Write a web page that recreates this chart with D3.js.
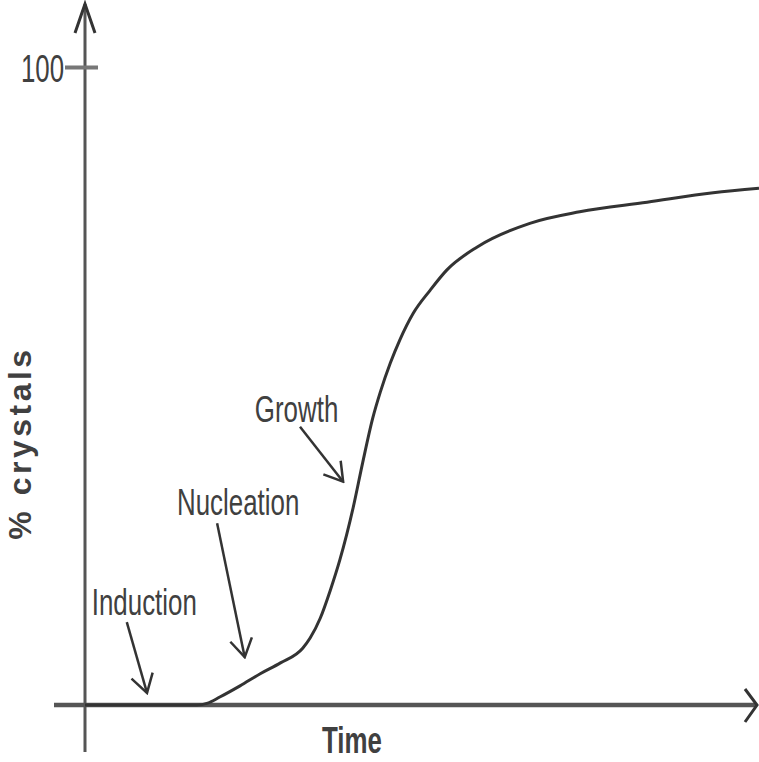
<!DOCTYPE html>
<html>
<head>
<meta charset="utf-8">
<script src="https://cdn.jsdelivr.net/npm/d3@7"></script>
<style>
  body { margin: 0; background: #fff; }
  text { font-family: "Liberation Sans", Arial, sans-serif; fill: #404040; }
</style>
</head>
<body>
<div id="graph"></div>
<script>
// ------DATA------
// time (arbitrary units) and % crystals
const time = [0, 9.6, 16.6, 18.2, 20, 23, 26, 29, 32.3, 33.4, 34.9, 36.4, 37.8, 39.8, 41.2, 42.7, 43.8, 45.3, 46.7, 48.7, 51.2, 53.7, 58.2, 66, 73.4, 83.4, 93.2, 100]
const crystals = [0, 0, 0, 0.3, 1.25, 3.0, 4.9, 6.6, 8.9, 10.5, 13.6, 18.0, 22.7, 31.0, 38.0, 45.0, 49.0, 53.6, 57.2, 61.4, 65.0, 68.2, 71.8, 75.5, 77.3, 78.8, 80.3, 81.0]
const yTicks = [100]

// annotation labels: label anchor and arrow start/end, all in data units
const stageLabels = ["Induction", "Nucleation", "Growth"]
const labelPos = [[1.0, 14.1], [13.65, 29.8], [25.2, 44.4]]
const arrowFrom = [[6.2, 13.0], [19.6, 28.5], [31.9, 43.6]]
const arrowTo = [[9.2, 1.9], [23.7, 7.5], [38.3, 35.0]]

const width = 759, height = 762

const svg = d3.select('#graph').append('svg')
  .attr('width', width)
  .attr('height', height)

const x = d3.scaleLinear().domain([0, 100]).range([85, 759])
const y = d3.scaleLinear().domain([0, 100]).range([705, 67])

const axisColor = "#555"

// arrow marker for annotations
svg.append('defs').append('marker')
  .attr('id', 'head')
  .attr('markerUnits', 'userSpaceOnUse')
  .attr('viewBox', '-20 -13 22 26')
  .attr('markerWidth', 22).attr('markerHeight', 26)
  .attr('refX', 0).attr('refY', 0)
  .attr('orient', 'auto')
  .append('path')
    .attr('d', 'M-18,-11L0,0L-18,11')
    .attr('fill', 'none')
    .attr('stroke', '#333')
    .attr('stroke-width', 2.5)

// ------AXES------
// x axis line with open arrowhead
svg.append('line')
  .attr('x1', 54).attr('x2', 756)
  .attr('y1', y(0)).attr('y2', y(0))
  .attr('stroke', axisColor).attr('stroke-width', 4.5)
svg.append('path')
  .attr('d', `M745,${y(0) - 16}L757,${y(0)}L745,${y(0) + 17}`)
  .attr('fill', 'none').attr('stroke', '#333').attr('stroke-width', 3)

// y axis line with open arrowhead
svg.append('line')
  .attr('x1', x(0)).attr('x2', x(0))
  .attr('y1', 4).attr('y2', 752)
  .attr('stroke', axisColor).attr('stroke-width', 3)
svg.append('path')
  .attr('d', `M${x(0) - 10},33L${x(0)},4L${x(0) + 10},33`)
  .attr('fill', 'none').attr('stroke', '#333').attr('stroke-width', 3)

// the single "100" tick
const yAxis = svg.append('g')
  .attr('transform', `translate(${x(0)},0)`)
  .call(d3.axisLeft(y).tickValues(yTicks).tickSize(20).tickPadding(2))
yAxis.select('.domain').remove()
yAxis.selectAll('.tick line')
  .attr('x1', 13).attr('x2', -20)
  .attr('stroke', '#777').attr('stroke-width', 4)
yAxis.selectAll('.tick text')
  .attr('x', null).attr('dy', null)
  .attr('fill', '#505050')
  .style('font-size', '38px')
  .style('font-family', '"Liberation Sans", Arial, sans-serif')
  .attr('text-anchor', 'end')
  .attr('transform', 'translate(-21,14) scale(0.68,1)')

// axis titles
svg.append('text')
  .attr('transform', 'translate(352,753) scale(0.7,1)')
  .attr('text-anchor', 'middle')
  .style('font-size', '37px')
  .style('font-weight', 'bold')
  .text('Time')

svg.append('text')
  .attr('transform', 'translate(31,443) rotate(-90)')
  .attr('text-anchor', 'middle')
  .style('font-size', '32px')
  .style('font-weight', 'bold')
  .style('letter-spacing', '3.5px')
  .text('% crystals')

// ------CURVE------
const line = d3.line()
  .x(d => x(d[0]))
  .y(d => y(d[1]))
  .curve(d3.curveMonotoneX)

svg.append('path')
  .datum(d3.zip(time, crystals))
  .attr('d', line)
  .attr('fill', 'none')
  .attr('stroke', '#333')
  .attr('stroke-width', 3)

// ------ANNOTATIONS------
stageLabels.forEach((label, i) => {
  svg.append('text')
    .attr('transform', `translate(${x(labelPos[i][0])},${y(labelPos[i][1])}) scale(0.7,1)`)
    .style('font-size', '37px')
    .text(label)
  svg.append('line')
    .attr('x1', x(arrowFrom[i][0])).attr('y1', y(arrowFrom[i][1]))
    .attr('x2', x(arrowTo[i][0])).attr('y2', y(arrowTo[i][1]))
    .attr('stroke', '#333').attr('stroke-width', 2.5)
    .attr('marker-end', 'url(#head)')
})
</script>
</body>
</html>
